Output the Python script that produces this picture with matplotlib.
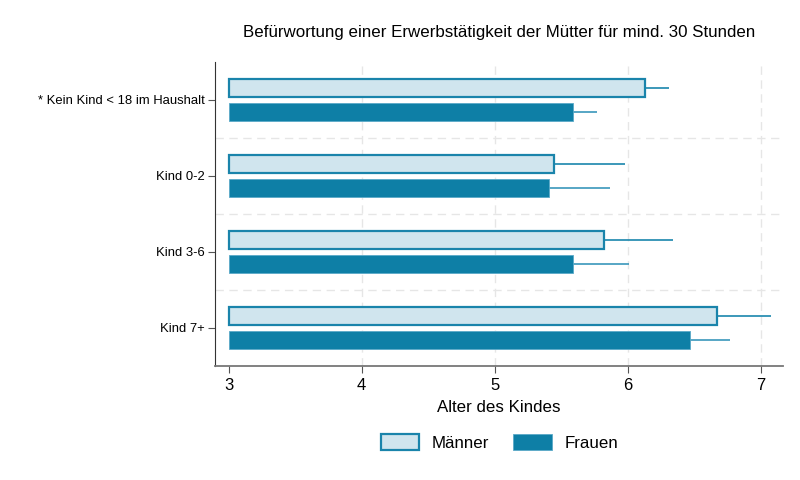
import matplotlib
matplotlib.use("Agg")
from matplotlib import pyplot as plt
import numpy as np

plt.rcParams['font.family'] = ['Liberation Sans', 'DejaVu Sans']

categories = ["* Kein Kind < 18 im Haushalt", "Kind 0-2", "Kind 3-6", "Kind 7+"]
maenner = [6.13, 5.45, 5.82, 6.67]
maenner_ci = [6.31, 5.98, 6.34, 7.08]
frauen = [5.59, 5.41, 5.59, 6.47]
frauen_ci = [5.77, 5.87, 6.01, 6.77]

base = 3
y = np.arange(len(categories))
h = 0.24

fig = plt.figure(figsize=(8, 4.8), dpi=100)
ax = fig.add_axes([0.269, 0.2375, 0.71, 0.6335])

m_vals = np.array(maenner)
f_vals = np.array(frauen)

ax.barh(y - 0.16, m_vals - base, left=base, height=h, color="#d0e5ee",
        edgecolor="#1a84ab", linewidth=1.6, label="Männer", zorder=3)
ax.barh(y + 0.16, f_vals - base, left=base, height=h, color="#0e7fa6",
        edgecolor="#5aa9c8", linewidth=0.6, label="Frauen", zorder=3)

ax.errorbar(m_vals, y - 0.16, xerr=[np.zeros(4), np.array(maenner_ci) - m_vals],
            fmt="none", ecolor="#1a86ad", elinewidth=1.2, capsize=0, zorder=2)
ax.errorbar(f_vals, y + 0.16, xerr=[np.zeros(4), np.array(frauen_ci) - f_vals],
            fmt="none", ecolor="#3a97bb", elinewidth=1.2, capsize=0, zorder=2)

ax.set_xlim(2.9, 7.17)
ax.set_ylim(3.5, -0.5)
ax.set_yticks(y)
ax.set_yticklabels(categories, fontsize=9.4)
ax.set_xticks([3, 4, 5, 6, 7])
ax.tick_params(axis="x", labelsize=12, length=5, color="#555555")
ax.tick_params(axis="y", length=5, color="#555555", pad=2.5)

for gx in [4, 5, 6, 7]:
    ax.axvline(gx, color="#e6e6e6", linestyle=(0, (6, 4)), linewidth=1, zorder=0)
for gy in [0.5, 1.5, 2.5]:
    ax.axhline(gy, color="#e6e6e6", linestyle=(0, (6, 4)), linewidth=1, zorder=0)

for s in ["top", "right"]:
    ax.spines[s].set_visible(False)
ax.spines["left"].set_color("#333333")
ax.spines["bottom"].set_color("#777777")
ax.spines["bottom"].set_linewidth(1.3)

ax.set_xlabel("Alter des Kindes", fontsize=12.2, labelpad=5)
ax.set_title("Befürwortung einer Erwerbstätigkeit der Mütter für mind. 30 Stunden",
             fontsize=12.2, pad=18)

ax.legend(loc="upper center", bbox_to_anchor=(0.5, -0.175), ncol=2, frameon=False,
          fontsize=12.2, handlelength=2.3, handleheight=1.0, handletextpad=0.7,
          columnspacing=1.45)

fig.savefig("out.png", dpi=100)
